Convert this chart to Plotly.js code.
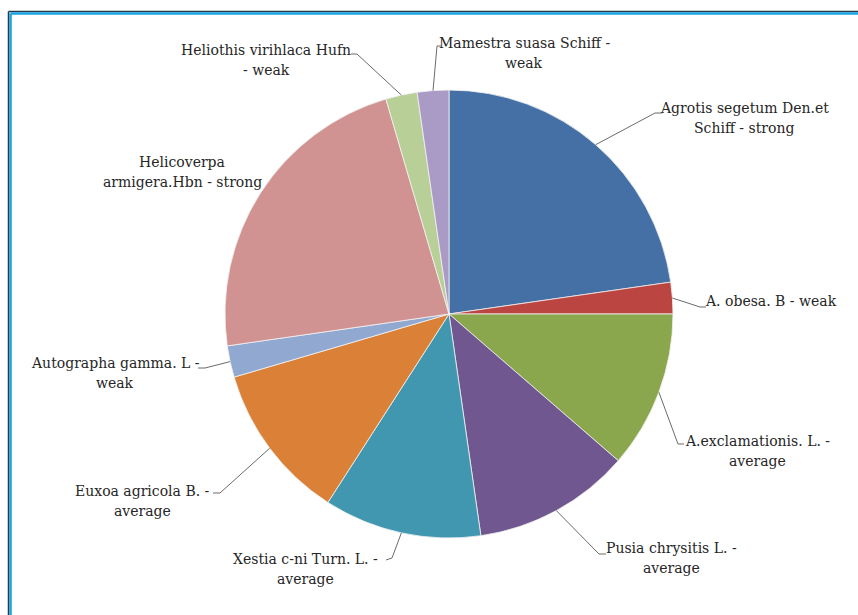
<!DOCTYPE html>
<html>
<head>
<meta charset="utf-8">
<script src="https://cdn.plot.ly/plotly-3.0.1.min.js"></script>
<style>html,body{margin:0;padding:0;background:#fff;}#chart{width:858px;height:615px;}</style>
</head>
<body>
<div id="chart"></div>
<script>
// ---- data ----
const labels = [
  "Agrotis segetum Den.et<br>Schiff - strong",
  "A. obesa. B - weak",
  "A.exclamationis. L. -<br>average",
  "Pusia chrysitis L. -<br>average",
  "Xestia c-ni Turn. L. -<br>average",
  "Euxoa agricola B. -<br>average",
  "Autographa gamma. L -<br>weak",
  "Helicoverpa<br>armigera.Hbn - strong",
  "Heliothis virihlaca Hufn<br>- weak",
  "Mamestra suasa Schiff -<br>weak"
];
const values = [10, 1, 5, 5, 5, 5, 1, 10, 1, 1];
const colors = ["#4470A6", "#BB4541", "#8BA74D", "#70578F", "#4297B0",
                "#DA8137", "#91A8D0", "#D19292", "#B8CF97", "#A99BC6"];

// ---- layout geometry (pixels) ----
const W = 858, H = 615;
const cx = 449, cy = 314, R = 224;
const lineGap = 20;
// label block centres
const labelPos = [[744,118],[771,301],[757,451],[671,558],[305,569],[142,501],[115,373],[182,172],[266,60],[524,53]];
// leader: elbow point and tick end (null = no leader)
const leaderPts = [
  [[655,113],[662,113]],
  [[700,307],[706,307]],
  [[678,444],[684,444]],
  [[599,554],[606,554]],
  [[392,558],[386,560]],
  [[220,493],[213,493]],
  [[205,368],[198,368]],
  null,
  [[357,54],[351,54]],
  [[437,46],[441,46]]
];

const px = x => x / W;
const py = y => 1 - y / H;
const FONT = {family: "'DejaVu Serif', 'Liberation Serif', serif", size: 14, color: "#262626"};

const total = values.reduce((a, b) => a + b, 0);
let cum = 0;
const shapes = [];
const annotations = [];
values.forEach((v, i) => {
  const mid = (cum + v / 2) / total * 2 * Math.PI;
  cum += v;
  const sx = cx + R * Math.sin(mid), sy = cy - R * Math.cos(mid);
  const lp = leaderPts[i];
  if (lp) {
    shapes.push({
      type: "path", xref: "paper", yref: "paper",
      path: `M${px(sx)},${py(sy)} L${px(lp[0][0])},${py(lp[0][1])} L${px(lp[1][0])},${py(lp[1][1])}`,
      line: {color: "#6b6b6b", width: 1}
    });
  }
  const lines = labels[i].split("<br>");
  lines.forEach((t, k) => {
    const yy = labelPos[i][1] + (k - (lines.length - 1) / 2) * lineGap;
    annotations.push({
      xref: "paper", yref: "paper", x: px(labelPos[i][0]), y: py(yy),
      xanchor: "center", yanchor: "middle", align: "center", showarrow: false,
      text: t, font: FONT
    });
  });
});

// frame
shapes.push({type:"line", xref:"paper", yref:"paper", x0:px(8.5), x1:1.01, y0:py(11.5), y1:py(11.5), line:{color:"#24394a", width:1.5}});
shapes.push({type:"line", xref:"paper", yref:"paper", x0:px(8.5), x1:px(8.5), y0:py(11.5), y1:-0.01, line:{color:"#24394a", width:1.5}});
shapes.push({type:"line", xref:"paper", yref:"paper", x0:px(10.5), x1:1.01, y0:py(13.5), y1:py(13.5), line:{color:"#1aa3e0", width:2.5}});
shapes.push({type:"line", xref:"paper", yref:"paper", x0:px(10.5), x1:px(10.5), y0:py(13.5), y1:-0.01, line:{color:"#1aa3e0", width:2.5}});

const trace = {
  type: "pie",
  labels: labels,
  values: values,
  sort: false,
  direction: "clockwise",
  rotation: 0,
  textinfo: "none",
  hoverinfo: "label+value",
  marker: {colors: colors, line: {color: "#f2f2f2", width: 0.8}},
  domain: {x: [px(cx - R), px(cx + R)], y: [py(cy + R), py(cy - R)]},
  showlegend: false
};

const layout = {
  width: W, height: H,
  margin: {l: 0, r: 0, t: 0, b: 0},
  paper_bgcolor: "#ffffff",
  plot_bgcolor: "#ffffff",
  showlegend: false,
  shapes: shapes,
  annotations: annotations
};

Plotly.newPlot("chart", [trace], layout, {displayModeBar: false, staticPlot: true});
</script>
</body>
</html>
